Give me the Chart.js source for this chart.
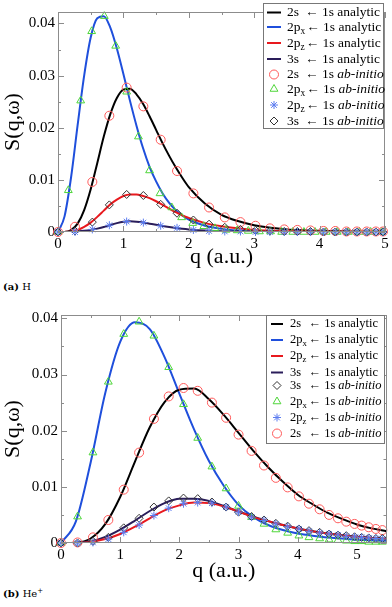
<!DOCTYPE html>
<html><head><meta charset="utf-8">
<script src="https://cdn.jsdelivr.net/npm/chart.js@4.4.0/dist/chart.umd.min.js"></script>
<style>
html,body{margin:0;padding:0;background:#fff;width:392px;height:607px;overflow:hidden;position:relative}
.wrap{position:absolute;left:0;width:392px}
#w1{top:0;height:270px}
#w2{top:300px;height:284px}
.cap{position:absolute;left:3px;font:10px "DejaVu Serif",serif;color:#000;line-height:12px;white-space:nowrap}
.cap b{font-weight:bold}
.cap sup{font-size:7px;vertical-align:4px;line-height:0}
</style></head><body>
<div class="wrap" id="w1"><canvas id="c1"></canvas></div>
<div class="cap" style="top:281px"><b>(a)</b> H</div>
<div class="wrap" id="w2"><canvas id="c2"></canvas></div>
<div class="cap" style="top:588px"><b>(b)</b> He<sup>+</sup></div>
<script>
// ---------- Panel (a): H ----------
const qLineA = [0,0.1,0.2,0.3,0.4,0.5,0.6,0.7,0.8,0.9,1.0,1.1,1.2,1.3,1.4,1.5,1.6,1.7,1.8,1.9,2.0,2.25,2.5,2.75,3.0,3.25,3.5,3.75,4.0,4.5,5.0];
const blueA  = [0,0.0030,0.0105,0.0205,0.0300,0.0373,0.0410,0.0414,0.0392,0.0352,0.0303,0.0252,0.0204,0.0161,0.0125,0.0097,0.0074,0.0056,0.0042,0.0032,0.0024,0.0012,0.0006,0.0003,0.00016,0.0001,0.00005,0.00003,0.00002,0.00001,0];
const blackA = [0,0.00002,0.00036,0.0016,0.0042,0.0082,0.0132,0.0183,0.0226,0.0257,0.0273,0.0275,0.0264,0.0246,0.0222,0.0196,0.0170,0.0146,0.0124,0.0104,0.0086,0.0054,0.0033,0.0021,0.0013,0.0008,0.0005,0.00034,0.00022,0.0001,0.00005];
const redA   = [0,0.00002,0.0001,0.0004,0.0010,0.0018,0.0029,0.0041,0.0053,0.0062,0.0069,0.0072,0.0072,0.0069,0.0065,0.0059,0.0052,0.0045,0.0038,0.0032,0.0027,0.0017,0.0011,0.0007,0.0004,0.00025,0.00016,0.0001,0.00007,0.00003,0.00001];
const navyA  = [0,0,0.00003,0.0001,0.00022,0.0004,0.00065,0.00095,0.00135,0.0017,0.00195,0.00205,0.00198,0.00182,0.0016,0.00138,0.00115,0.00095,0.00077,0.00062,0.0005,0.00028,0.00016,0.0001,0.00006,0.00004,0.00002,0.00001,0.00001,0,0];
const qMarkA = [0,0.26,0.525,0.785,1.05,1.305,1.57,1.82,2.07,2.31,2.55,2.79,3.02,3.24,3.46,3.66,3.86,4.06,4.24,4.41,4.57,4.72,4.86,4.97];
const circA  = [0,0.0010,0.0096,0.0223,0.0277,0.0241,0.0177,0.0117,0.0074,0.0047,0.0028,0.0019,0.0012,0.0007,0.0005,0.0004,0.0003,0.0002,0.0002,0.0001,0.0001,0.0001,0.0001,0.0001];
const diamA  = [0,0.0002,0.0019,0.0052,0.0072,0.0070,0.0053,0.0036,0.0023,0.0015,0.0009,0.0005,0.0003,0.0002,0.0001,0.0001,0.0001,0,0,0,0,0,0,0];
const starA  = [0,0,0.0005,0.0013,0.0020,0.0018,0.0012,0.0008,0.0004,0.0002,0.0001,0.0001,0,0,0,0,0,0,0,0,0,0,0,0];
const qTriA  = [0,0.158,0.347,0.515,0.708,0.882,1.05,1.23,1.40,1.56,1.74,1.89,2.06,2.23,2.40,2.57,2.74,2.91,3.08,3.25,3.42,3.59,3.76,3.93,4.10,4.27,4.44,4.61,4.78,4.95];
const triA   = [0,0.0080,0.0252,0.0385,0.0414,0.0357,0.0269,0.0183,0.0118,0.0074,0.0047,0.0028,0.0017,0.0011,0.0007,0.0004,0.0003,0.0002,0.0001,0.0001,0,0,0,0,0,0,0,0,0,0];

// ---------- Panel (b): He+ ----------
const qLineB = [0,0.25,0.5,0.75,1.0,1.25,1.5,1.75,2.0,2.25,2.5,2.75,3.0,3.25,3.5,3.75,4.0,4.25,4.5,4.75,5.0,5.25,5.5];
const blueB  = [0,0.0038,0.0143,0.0268,0.0358,0.0393,0.0381,0.0331,0.0266,0.0202,0.0146,0.0102,0.0068,0.0046,0.0032,0.0023,0.0017,0.0013,0.0010,0.0008,0.0006,0.0005,0.0004];
const blackB = [0,0.00006,0.0008,0.0034,0.0082,0.0145,0.0206,0.0251,0.0273,0.0275,0.0256,0.0228,0.0196,0.0164,0.0135,0.0109,0.0086,0.0069,0.0054,0.0043,0.0033,0.0026,0.0021];
const redB   = [0,0.00002,0.0002,0.0007,0.0016,0.0029,0.0044,0.0058,0.0067,0.0072,0.0071,0.0065,0.0056,0.0046,0.0039,0.0032,0.0026,0.0021,0.0017,0.0014,0.0011,0.0009,0.0007];
const navyB  = [0,0.00002,0.0003,0.0011,0.0024,0.0040,0.0057,0.0071,0.0079,0.0079,0.0075,0.0066,0.0056,0.0047,0.0039,0.0032,0.0026,0.0021,0.0017,0.0014,0.0011,0.0009,0.00075];
const qMarkB = [0,0.28,0.54,0.8,1.06,1.32,1.57,1.82,2.07,2.31,2.55,2.79,3.0,3.22,3.43,3.63,3.83,4.02,4.19,4.37,4.53,4.68,4.82,4.96,5.08,5.2,5.32,5.43];
const triB   = [0,0.0047,0.0161,0.0287,0.0372,0.0394,0.0369,0.0313,0.0247,0.0187,0.0136,0.0097,0.0066,0.0046,0.0034,0.0024,0.0018,0.0013,0.0010,0.0008,0.0006,0.0005,0.0004,0.0003,0.0003,0.0002,0.0002,0.0002];
const circB  = [0,0.0001,0.0010,0.0041,0.0095,0.0161,0.0221,0.0261,0.0276,0.0271,0.0250,0.0223,0.0193,0.0164,0.0138,0.0116,0.0099,0.0083,0.0070,0.0060,0.0050,0.0044,0.0038,0.0034,0.0031,0.0028,0.0025,0.0023];
const diamB  = [0,0,0.0003,0.0010,0.0027,0.0044,0.0064,0.0075,0.0080,0.0079,0.0073,0.0064,0.0055,0.0047,0.0041,0.0035,0.0030,0.0025,0.0022,0.0019,0.0016,0.0014,0.0013,0.0011,0.0010,0.0009,0.0008,0.0008];
const starB  = [0,0,0.0001,0.0007,0.0019,0.0032,0.0049,0.0062,0.0070,0.0072,0.0071,0.0064,0.0055,0.0046,0.0040,0.0034,0.0029,0.0025,0.0021,0.0018,0.0016,0.0014,0.0012,0.0011,0.0010,0.0009,0.0008,0.0007];

// ---------- ticks ----------
const xTicks  = [0,1,2,3,4,5];
const xMinorA = [0.5,1.5,2.5,3.5,4.5];
const xMinorB = [0.5,1.5,2.5,3.5,4.5];
const yTicks  = [0,0.01,0.02,0.03,0.04];
const yMinor  = [0.005,0.015,0.025,0.035];

const SERIF = '"Liberation Serif","Times New Roman",serif';
const COL = {black:'#000000', blue:'#1f4fdc', red:'#e8191e', navy:'#2a1d5a',
             circ:'#ff5a5a', tri:'#4fd63a', star:'#5c7cf0', diam:'#333333', frame:'#8c8c8c'};

const pts = (xs, ys) => xs.map((x, i) => ({x: x, y: ys[i]}));
function lineDS(xs, ys, color){
  return {data: pts(xs, ys), showLine: true, borderColor: color, backgroundColor: color, borderWidth: 2,
          pointRadius: 0, pointHoverRadius: 0, cubicInterpolationMode: 'monotone', fill: false, order: 1};
}
function markDS(xs, ys, color, style, r){
  return {data: pts(xs, ys), showLine: false, borderColor: color, backgroundColor: 'rgba(0,0,0,0)',
          pointStyle: style, pointRadius: r, pointHoverRadius: r, pointBorderWidth: 1, order: 0, clip: false};
}

// frame + inward ticks on all four sides
const frameTicks = {
  id: 'frameTicks',
  afterDatasetsDraw(chart, args, o){
    const ctx = chart.ctx, a = chart.chartArea, x = chart.scales.x, y = chart.scales.y;
    ctx.save();
    ctx.strokeStyle = COL.frame; ctx.lineWidth = 1;
    ctx.beginPath();
    const vx = (vals, len) => vals.forEach(v => {
      const p = Math.round(x.getPixelForValue(v)) + 0.5;
      ctx.moveTo(p, a.bottom); ctx.lineTo(p, a.bottom - len);
      ctx.moveTo(p, a.top); ctx.lineTo(p, a.top + len);
    });
    const vy = (vals, len) => vals.forEach(v => {
      const p = Math.round(y.getPixelForValue(v)) + 0.5;
      ctx.moveTo(a.left, p); ctx.lineTo(a.left + len, p);
      ctx.moveTo(a.right, p); ctx.lineTo(a.right - len, p);
    });
    vx(o.xMajor, 6); vx(o.xMinor, 3); vy(o.yMajor, 6); vy(o.yMinor, 3);
    ctx.stroke();
    ctx.strokeRect(Math.round(a.left) + 0.5, Math.round(a.top) + 0.5, Math.round(a.right - a.left) - 1, Math.round(a.bottom - a.top) - 1);
    ctx.restore();
  }
};

function drawMarker(ctx, style, cx, cy, r, color){
  ctx.save(); ctx.strokeStyle = color; ctx.lineWidth = 1; ctx.beginPath();
  if (style === 'circle'){ ctx.arc(cx, cy, r, 0, Math.PI * 2); }
  else if (style === 'triangle'){
    for (let k = 0; k < 3; k++){ const t = k * 2 * Math.PI / 3; const px = cx + Math.sin(t) * r, py = cy - Math.cos(t) * r; k ? ctx.lineTo(px, py) : ctx.moveTo(px, py); }
    ctx.closePath();
  } else if (style === 'rectRot'){
    ctx.moveTo(cx, cy - r); ctx.lineTo(cx + r, cy); ctx.lineTo(cx, cy + r); ctx.lineTo(cx - r, cy); ctx.closePath();
  } else if (style === 'star'){
    for (let k = 0; k < 4; k++){ const t = k * Math.PI / 4; ctx.moveTo(cx - Math.cos(t) * r, cy - Math.sin(t) * r); ctx.lineTo(cx + Math.cos(t) * r, cy + Math.sin(t) * r); }
  }
  ctx.stroke(); ctx.restore();
}

const boxLegend = {
  id: 'boxLegend',
  afterDraw(chart, args, L){
    const ctx = chart.ctx;
    ctx.save();
    ctx.fillStyle = '#fff';
    ctx.fillRect(L.box[0], L.box[1], L.box[2] - L.box[0], L.box[3] - L.box[1]);
    ctx.strokeStyle = '#777'; ctx.lineWidth = 1;
    ctx.strokeRect(L.box[0] + 0.5, L.box[1] + 0.5, L.box[2] - L.box[0], L.box[3] - L.box[1]);
    const fMain = L.size + 'px ' + SERIF, fSub = (L.size * 0.7) + 'px ' + SERIF, fIt = 'italic ' + L.size + 'px ' + SERIF;
    L.items.forEach((it, i) => {
      const yy = L.rows[i];
      if (it.line){
        ctx.strokeStyle = it.color; ctx.lineWidth = 2; ctx.beginPath();
        ctx.moveTo(L.lineX[0], yy); ctx.lineTo(L.lineX[1], yy); ctx.stroke();
      } else {
        drawMarker(ctx, it.style, L.markX, yy, it.r, it.color);
      }
      ctx.fillStyle = '#000'; ctx.textBaseline = 'middle'; ctx.textAlign = 'left';
      ctx.font = fMain;
      let xx = L.textX;
      ctx.fillText(it.main, xx, yy); xx += ctx.measureText(it.main).width;
      if (it.sub){ ctx.font = fSub; ctx.fillText(it.sub, xx, yy + L.size * 0.33); xx += ctx.measureText(it.sub).width; ctx.font = fMain; }
      xx = Math.max(xx + 1, L.arrowX);
      const s = '\u2190 1s ';
      ctx.fillText(s, xx, yy); xx += ctx.measureText(s).width;
      if (it.kind === 'a') ctx.fillText('analytic', xx, yy);
      else { ctx.font = fIt; ctx.fillText('ab-initio', xx, yy); }
    });
    ctx.restore();
  }
};

const linesLegend = [
  {line: true, color: COL.black, main: '2s', sub: '', kind: 'a'},
  {line: true, color: COL.blue,  main: '2p', sub: 'x', kind: 'a'},
  {line: true, color: COL.red,   main: '2p', sub: 'z', kind: 'a'},
  {line: true, color: COL.navy,  main: '3s', sub: '', kind: 'a'}
];
const M = {
  circ: {style: 'circle',   r: 4.5, color: COL.circ, main: '2s', sub: '',  kind: 'i'},
  tri:  {style: 'triangle', r: 4.5, color: COL.tri,  main: '2p', sub: 'x', kind: 'i'},
  star: {style: 'star',     r: 4,   color: COL.star, main: '2p', sub: 'z', kind: 'i'},
  diam: {style: 'rectRot',  r: 4,   color: COL.diam, main: '3s', sub: '',  kind: 'i'}
};

function makeChart(id, cfg){
  return new Chart(document.getElementById(id), {
    type: 'scatter',
    data: {datasets: cfg.datasets},
    options: {
      responsive: true, maintainAspectRatio: false, animation: false, events: [],
      layout: {padding: {top: cfg.padTop, right: cfg.padRight, left: 0, bottom: 0}},
      plugins: {
        legend: {display: false}, tooltip: {enabled: false},
        frameTicks: {xMajor: xTicks, xMinor: cfg.xMinor, yMajor: yTicks, yMinor: yMinor},
        boxLegend: cfg.legend
      },
      scales: {
        x: {type: 'linear', min: 0, max: cfg.xMax,
            grid: {display: false, drawTicks: false}, border: {display: false},
            ticks: {font: {family: SERIF, size: 15}, color: '#000', padding: 3, maxRotation: 0, autoSkip: false,
                    callback: v => String(v)},
            afterBuildTicks: s => { s.ticks = xTicks.map(v => ({value: v})); },
            afterFit: s => { s.height = cfg.xAxisH; },
            title: {display: true, text: 'q (a.u.)', color: '#000', font: {family: SERIF, size: 22}, padding: {top: 0, bottom: 0}}},
        y: {type: 'linear', min: 0, max: cfg.yMax,
            grid: {display: false, drawTicks: false}, border: {display: false},
            ticks: {font: {family: SERIF, size: 15}, color: '#000', padding: 3, autoSkip: false,
                    callback: v => v === 0 ? '0' : v.toFixed(2)},
            afterBuildTicks: s => { s.ticks = yTicks.map(v => ({value: v})); },
            afterFit: s => { s.width = cfg.yAxisW; },
            title: {display: true, text: 'S(q,\u03c9)', color: '#000', font: {family: SERIF, size: 22}, padding: {top: 0, bottom: 0}}}
      }
    },
    plugins: [frameTicks, boxLegend]
  });
}

makeChart('c1', {
  xMax: 5, yMax: 0.0422, padTop: 3, padRight: 7, xAxisH: 38, yAxisW: 58, xMinor: xMinorA,
  datasets: [
    markDS(qMarkA, starA, COL.star, 'star', 4),
    markDS(qMarkA, diamA, COL.diam, 'rectRot', 4),
    markDS(qMarkA, circA, COL.circ, 'circle', 4.5),
    markDS(qTriA, triA, COL.tri, 'triangle', 4.5),
    lineDS(qLineA, navyA, COL.navy),
    lineDS(qLineA, redA, COL.red),
    lineDS(qLineA, blackA, COL.black),
    lineDS(qLineA, blueA, COL.blue)
  ],
  legend: {box: [263, 3, 383, 128], rows: [12.5, 27, 43, 59, 74.5, 89, 105, 121], lineX: [267, 281], markX: 274,
           textX: 287, arrowX: 305, size: 13.5,
           items: linesLegend.concat([M.circ, M.tri, M.star, M.diam])}
});

makeChart('c2', {
  xMax: 5.5, yMax: 0.0406, padTop: 15, padRight: 3, xAxisH: 41, yAxisW: 61, xMinor: xMinorB,
  datasets: [
    markDS(qMarkB, starB, COL.star, 'star', 4),
    markDS(qMarkB, diamB, COL.diam, 'rectRot', 4),
    markDS(qMarkB, circB, COL.circ, 'circle', 4.5),
    markDS(qMarkB, triB, COL.tri, 'triangle', 4.5),
    lineDS(qLineB, redB, COL.red),
    lineDS(qLineB, navyB, COL.navy),
    lineDS(qLineB, blackB, COL.black),
    lineDS(qLineB, blueB, COL.blue)
  ],
  legend: {box: [266, 15, 384, 143], rows: [24, 40, 56, 72.5, 85.5, 101.5, 117.5, 133.5], lineX: [271, 283], markX: 277,
           textX: 290, arrowX: 308.5, size: 12.5,
           items: linesLegend.concat([M.diam, M.tri, M.star, M.circ])}
});
</script>
</body></html>
